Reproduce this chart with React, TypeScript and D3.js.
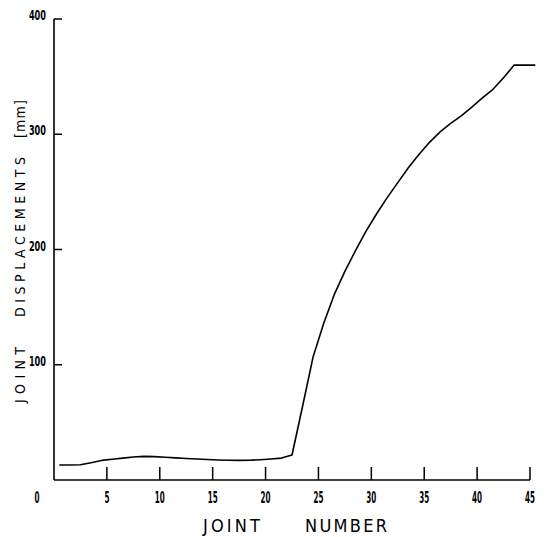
import React from 'react';
import * as d3 from 'd3';

// joint positions are plotted at the middle of each joint interval
const jointPos = d3.range(0.5, 46, 1);
const displacement = [
  13, 13, 13.2, 15, 17, 18, 19, 20, 20.5, 20.3,
  19.8, 19.2, 18.7, 18.2, 17.8, 17.4, 17.1, 17, 17.2, 17.6,
  18.2, 19, 21.7, 64, 107, 136, 161, 181, 199, 216,
  231, 245, 258, 271, 282.5, 293, 302, 309.5, 316, 323.5,
  331.5, 339, 349, 360, 360, 360,
];
const xTicks = [0, 5, 10, 15, 20, 25, 30, 35, 40, 45];
const yTicks = [100, 200, 300, 400];

const width = 545;
const height = 537;
const margin = { left: 54, right: 15, top: 19, bottom: 57 };
const labelFont = '"Liberation Sans Narrow", "DejaVu Sans Condensed", sans-serif';

export default function App() {
  const x = d3.scaleLinear().domain([0, 45]).range([margin.left, width - margin.right]);
  const y = d3.scaleLinear().domain([0, 400]).range([height - margin.bottom, margin.top]);

  const line = d3
    .line<number>()
    .x((d, i) => x(jointPos[i]))
    .y((d) => y(d));

  const y0 = y(0);

  return (
    <svg width={width} height={height} style={{ position: 'absolute', left: 0, top: 0, background: '#fff' }}>
      {/* axes */}
      <line x1={x(0)} x2={x(0)} y1={y(400)} y2={y0} stroke="#000" strokeWidth={1.6} />
      <line x1={x(0)} x2={x(45)} y1={y0} y2={y0} stroke="#000" strokeWidth={1.6} />

      {yTicks.map((t) => (
        <g key={'y' + t}>
          <line x1={x(0)} x2={x(0) + 8} y1={y(t)} y2={y(t)} stroke="#000" strokeWidth={1.5} />
          <text
            x={46}
            y={y(t) + 1}
            textAnchor="end"
            fontFamily={labelFont}
            fontWeight="bold"
            fontSize={14}
            textLength={String(t).length * 5.7}
            lengthAdjust="spacingAndGlyphs"
          >
            {t}
          </text>
        </g>
      ))}

      {xTicks.map((t) => (
        <g key={'x' + t}>
          {t > 0 && <line x1={x(t)} x2={x(t)} y1={y0} y2={y0 - 13} stroke="#000" strokeWidth={1.5} />}
          <text
            x={t === 0 ? x(t) - 17 : x(t)}
            y={503}
            textAnchor="middle"
            fontFamily={labelFont}
            fontWeight="bold"
            fontSize={15}
            textLength={String(t).length * 5}
            lengthAdjust="spacingAndGlyphs"
          >
            {t}
          </text>
        </g>
      ))}

      {/* data line */}
      <path d={line(displacement) || ''} fill="none" stroke="#000" strokeWidth={1.6} strokeLinejoin="round" />

      {/* x title */}
      <g fontFamily={labelFont} fontSize={18}>
        <text x={203} y={532} textLength={57} lengthAdjust="spacing">JOINT</text>
        <text x={305} y={532} textLength={82} lengthAdjust="spacing">NUMBER</text>
      </g>

      {/* y title */}
      <g transform="translate(25,0) rotate(-90)" fontFamily={labelFont} fontSize={14}>
        <text x={-403} y={0} textLength={56} lengthAdjust="spacing">JOINT</text>
        <text x={-317} y={0} textLength={160} lengthAdjust="spacing">DISPLACEMENTS</text>
        <text x={-138} y={0} textLength={38} lengthAdjust="spacing">[mm]</text>
      </g>
    </svg>
  );
}
